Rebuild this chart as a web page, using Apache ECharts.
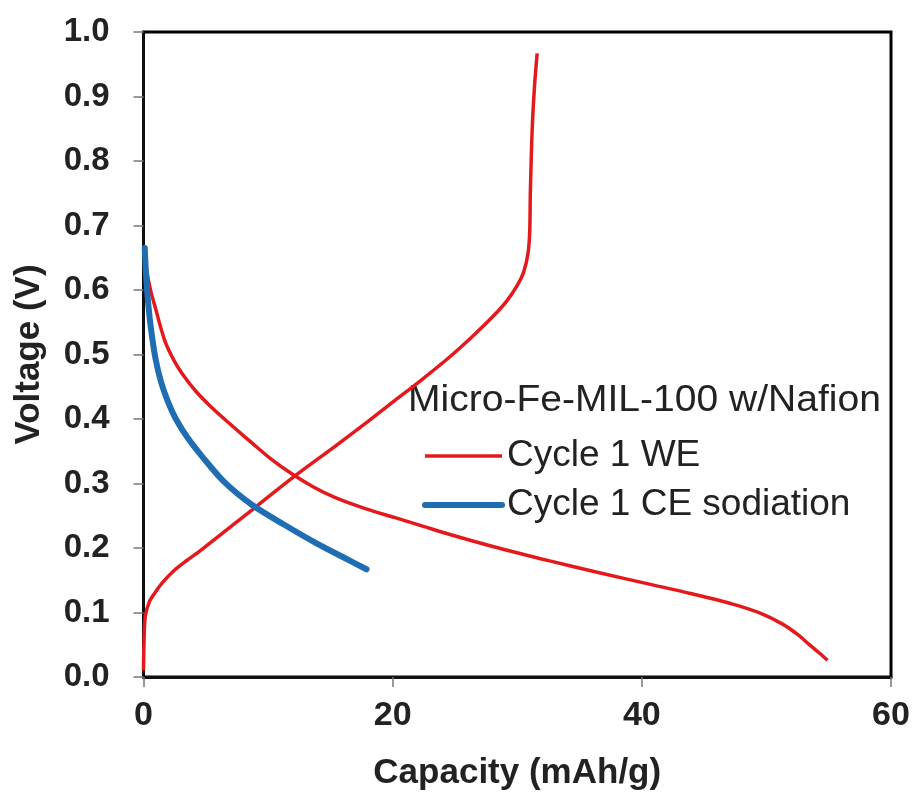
<!DOCTYPE html>
<html>
<head>
<meta charset="utf-8">
<script src="https://cdn.jsdelivr.net/npm/echarts@6/dist/echarts.min.js"></script>
<style>
html,body{margin:0;padding:0;background:#fff;}
#chart{width:913px;height:796px;}
</style>
</head>
<body>
<div id="chart"></div>
<script>
// Capacity (mAh/g), Voltage (V)
var weDischarge = [
  [0.05,0.66],[0.3,0.625],[0.6,0.597],[0.9,0.576],[1.7,0.522],[2.5,0.489],[3.3,0.465],[4.2,0.443],
  [5.2,0.423],[6.2,0.405],[7.2,0.388],[8.7,0.363],[10.3,0.337],[11.9,0.315],[13.6,0.295],
  [15.4,0.278],[17.8,0.261],[20.2,0.247],[22.4,0.234],[24.6,0.221],[28.5,0.2],[32.6,0.18],
  [36.5,0.162],[40.6,0.144],[44.0,0.129],[47.3,0.113],[49.5,0.099],[51.3,0.082],[52.5,0.066],
  [53.4,0.051],[54.2,0.038],[54.9,0.026]
];
var weCharge = [
  [0.0,0.01],[0.05,0.06],[0.15,0.095],[0.5,0.118],[0.9,0.13],[1.5,0.146],[2.5,0.166],
  [3.5,0.181],[4.7,0.198],[6.8,0.23],[8.9,0.262],[11.9,0.308],[15.4,0.358],[18.0,0.396],
  [20.0,0.426],[22.4,0.462],[24.5,0.495],[26.4,0.528],[28.0,0.558],[29.2,0.584],[30.0,0.607],
  [30.5,0.627],[30.85,0.655],[31.0,0.69],[31.05,0.75],[31.2,0.85],[31.4,0.92],[31.6,0.967]
];
var ceSodiation = [
  [0.1,0.665],[0.2,0.625],[0.35,0.585],[0.6,0.54],[0.95,0.495],[1.4,0.458],[2.0,0.425],
  [2.6,0.40],[3.5,0.372],[4.7,0.342],[6.5,0.302],[8.7,0.267],[11.3,0.236],[14.0,0.206],
  [16.0,0.186],[17.9,0.167]
];
var seriesNames = ['Cycle 1 WE', 'Cycle 1 CE sodiation'];
var legendTitle = 'Micro-Fe-MIL-100 w/Nafion';
var xAxisTitle = 'Capacity (mAh/g)';
var yAxisTitle = 'Voltage (V)';

var RED = '#e3191c';
var BLUE = '#1f6db3';
var FONT = '"Liberation Sans", Arial, sans-serif';

var chart = echarts.init(document.getElementById('chart'), null, {renderer:'canvas'});
chart.setOption({
  backgroundColor: '#fff',
  animation: false,
  grid: {
    left: 143.5, right: 22, top: 32, bottom: 116,
    show: true, borderColor: '#000', borderWidth: 3, backgroundColor: 'transparent'
  },
  graphic: [{
    type: 'text', x: 408, y: 401, scaleX: 1.055,
    style: { text: legendTitle, font: '37px ' + FONT, fill: '#222', verticalAlign: 'middle' }
  }],
  legend: {
    orient: 'vertical', left: 417, top: 431,
    itemWidth: 77, itemHeight: 12, itemGap: 9, selectedMode: false,
    itemStyle: { opacity: 0 },
    textStyle: { fontFamily: FONT, fontSize: 37, color: '#222', lineHeight: 40 },
    data: [
      { name: seriesNames[0], lineStyle: { color: RED, width: 3.5 } },
      { name: seriesNames[1], lineStyle: { color: BLUE, width: 6 } }
    ]
  },
  xAxis: {
    type: 'value', min: 0, max: 60, interval: 20,
    name: xAxisTitle, nameLocation: 'middle', nameGap: 79,
    nameTextStyle: { fontFamily: FONT, fontSize: 35, fontWeight: 'bold', color: '#222' },
    axisLine: { show: true, lineStyle: { color: '#111', width: 3 } },
    axisTick: { show: true, inside: false, length: 10, lineStyle: { color: '#777', width: 1.5 } },
    axisLabel: { margin: 22, fontFamily: FONT, fontSize: 34, fontWeight: 'bold', color: '#222' },
    splitLine: { show: false }
  },
  yAxis: {
    type: 'value', min: 0, max: 1, interval: 0.1,
    name: yAxisTitle, nameLocation: 'middle', nameGap: 97, nameRotate: 90,
    nameTextStyle: { fontFamily: FONT, fontSize: 35, fontWeight: 'bold', color: '#222' },
    axisLine: { show: true, lineStyle: { color: '#111', width: 2.5 } },
    axisTick: { show: true, inside: false, length: 10, lineStyle: { color: '#777', width: 1.5 } },
    axisLabel: { margin: 34, fontFamily: FONT, fontSize: 33, fontWeight: 'bold', color: '#222',
      formatter: function (v) { return v.toFixed(1); } },
    splitLine: { show: false }
  },
  series: [
    {
      name: seriesNames[0], type: 'line', data: weCharge, showSymbol: false, symbol: 'none',
      smooth: 0.3, lineStyle: { color: RED, width: 3.5 }, itemStyle: { color: RED }, z: 3
    },
    {
      name: seriesNames[0], type: 'line', data: weDischarge, showSymbol: false, symbol: 'none',
      smooth: 0.3, lineStyle: { color: RED, width: 3.5 }, itemStyle: { color: RED }, z: 2
    },
    {
      name: seriesNames[1], type: 'line', data: ceSodiation, showSymbol: false, symbol: 'none',
      smooth: 0.3, lineStyle: { color: BLUE, width: 6, cap: 'round' }, itemStyle: { color: BLUE }, z: 4
    }
  ]
});
</script>
</body>
</html>
